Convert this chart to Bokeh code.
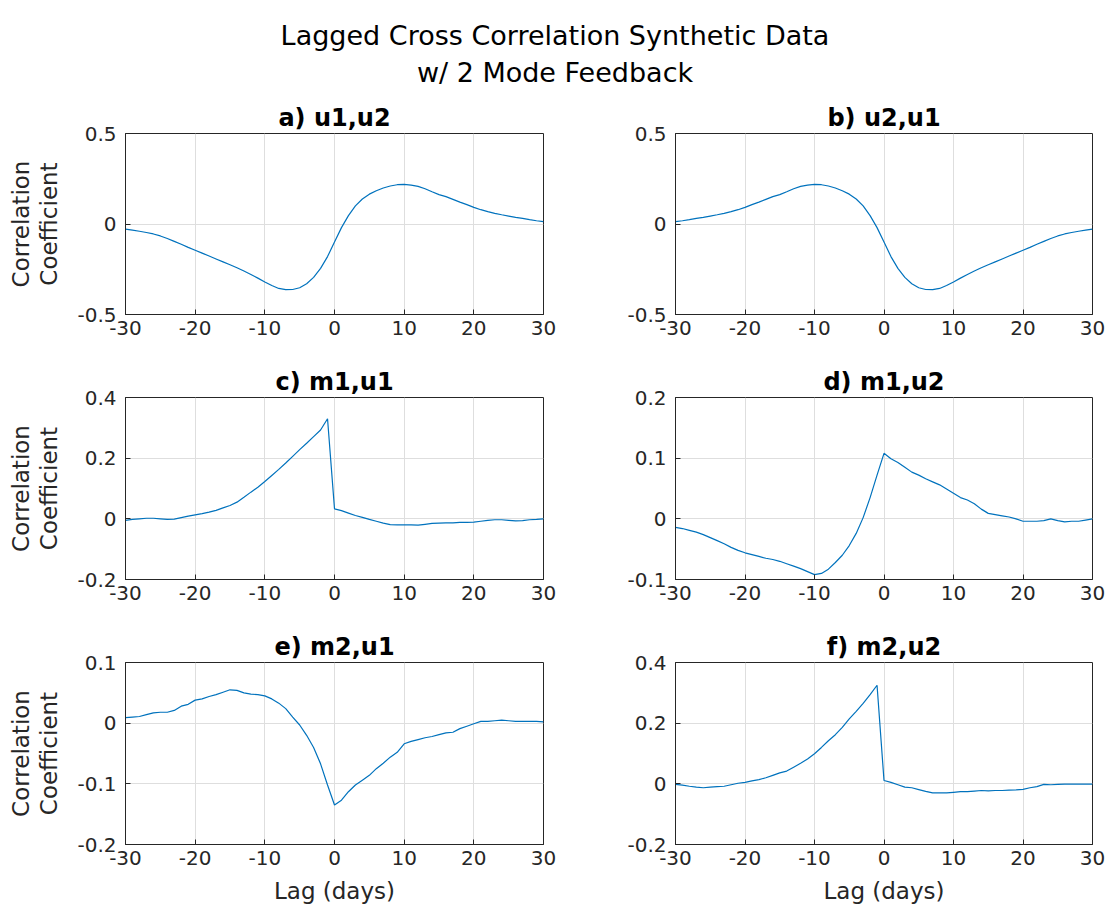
from bokeh.plotting import figure
from bokeh.layouts import column, row
from bokeh.models import FixedTicker, Range1d, CustomJSTickFormatter
from bokeh.core.properties import value
from bokeh.embed import file_html
from bokeh.resources import INLINE

# ---------------- data ----------------
lags = list(range(-30, 31))

a_u1u2 = [-0.028, -0.034, -0.040, -0.047, -0.055, -0.066, -0.080, -0.096, -0.112, -0.129,
          -0.145, -0.161, -0.177, -0.193, -0.209, -0.225, -0.242, -0.260, -0.279, -0.299,
          -0.320, -0.340, -0.356, -0.363, -0.362, -0.352, -0.330, -0.295, -0.245, -0.180,
          -0.100,
          -0.020, 0.046, 0.100, 0.138, 0.165, 0.184, 0.199, 0.210, 0.217, 0.219,
          0.215, 0.208, 0.195, 0.178, 0.162, 0.151, 0.136, 0.121, 0.107, 0.092,
          0.079, 0.068, 0.059, 0.051, 0.044, 0.037, 0.031, 0.024, 0.018, 0.013]

b_u2u1 = [0.013, 0.018, 0.024, 0.031, 0.037, 0.044, 0.051, 0.059, 0.068, 0.079,
          0.092, 0.107, 0.121, 0.136, 0.151, 0.162, 0.178, 0.195, 0.208, 0.215,
          0.219, 0.217, 0.210, 0.199, 0.184, 0.165, 0.138, 0.100, 0.046, -0.020,
          -0.100,
          -0.180, -0.245, -0.295, -0.330, -0.352, -0.362, -0.363, -0.356, -0.340, -0.320,
          -0.299, -0.279, -0.260, -0.242, -0.225, -0.209, -0.193, -0.177, -0.161, -0.145,
          -0.129, -0.112, -0.096, -0.080, -0.066, -0.055, -0.047, -0.040, -0.034, -0.028]

c_m1u1 = [-0.005, -0.002, 0.000, 0.002, 0.002, 0.000, -0.002, -0.001, 0.004, 0.009,
          0.013, 0.017, 0.022, 0.028, 0.036, 0.044, 0.055, 0.071, 0.088, 0.104,
          0.123, 0.143, 0.163, 0.184, 0.206, 0.228, 0.249, 0.271, 0.293, 0.330,
          0.033,
          0.027, 0.019, 0.011, 0.005, -0.002, -0.008, -0.014, -0.019, -0.020, -0.020,
          -0.020, -0.021, -0.018, -0.015, -0.014, -0.013, -0.013, -0.012, -0.012, -0.011,
          -0.008, -0.005, -0.003, -0.003, -0.005, -0.007, -0.006, -0.003, -0.002, 0.000]

d_m1u2 = [-0.014, -0.016, -0.019, -0.022, -0.026, -0.031, -0.036, -0.041, -0.047, -0.052,
          -0.056, -0.059, -0.062, -0.065, -0.067, -0.070, -0.074, -0.078, -0.082, -0.087,
          -0.092, -0.090, -0.083, -0.072, -0.060, -0.044, -0.024, 0.002, 0.035, 0.072,
          0.108,
          0.099, 0.093, 0.085, 0.077, 0.072, 0.066, 0.061, 0.056, 0.049, 0.042,
          0.035, 0.031, 0.025, 0.016, 0.009, 0.007, 0.005, 0.003, 0.000, -0.004,
          -0.004, -0.004, -0.003, 0.000, -0.003, -0.005, -0.004, -0.004, -0.002, 0.000]

e_m2u1 = [0.009, 0.010, 0.011, 0.014, 0.017, 0.018, 0.018, 0.021, 0.028, 0.031,
          0.038, 0.040, 0.044, 0.047, 0.051, 0.055, 0.054, 0.050, 0.048, 0.047,
          0.045, 0.040, 0.033, 0.024, 0.010, -0.003, -0.020, -0.040, -0.067, -0.102,
          -0.135,
          -0.127, -0.113, -0.102, -0.094, -0.086, -0.075, -0.066, -0.056, -0.048, -0.034,
          -0.030, -0.027, -0.024, -0.022, -0.019, -0.016, -0.015, -0.009, -0.005, -0.001,
          0.003, 0.003, 0.004, 0.005, 0.004, 0.003, 0.003, 0.003, 0.003, 0.002]

f_m2u2 = [-0.002, -0.004, -0.008, -0.011, -0.013, -0.011, -0.009, -0.008, -0.003, 0.002,
          0.005, 0.010, 0.014, 0.020, 0.028, 0.036, 0.042, 0.055, 0.068, 0.082,
          0.099, 0.120, 0.142, 0.162, 0.186, 0.214, 0.239, 0.265, 0.294, 0.325,
          0.011,
          0.005, -0.003, -0.011, -0.013, -0.019, -0.025, -0.030, -0.030, -0.030, -0.028,
          -0.026, -0.026, -0.024, -0.022, -0.023, -0.022, -0.022, -0.021, -0.020, -0.018,
          -0.013, -0.009, -0.002, -0.003, -0.002, -0.001, -0.001, -0.001, -0.001, -0.001]

x_ticks = [-30, -20, -10, 0, 10, 20, 30]
x_tick_labels = ["-30", "-20", "-10", "0", "10", "20", "30"]

y_ticks_ab = [-0.5, 0, 0.5]
y_labels_ab = ["-0.5", "0", "0.5"]
y_ticks_cf = [-0.2, 0, 0.2, 0.4]
y_labels_cf = ["-0.2", "0", "0.2", "0.4"]
y_ticks_d = [-0.1, 0, 0.1, 0.2]
y_labels_d = ["-0.1", "0", "0.1", "0.2"]
y_ticks_e = [-0.2, -0.1, 0, 0.1]
y_labels_e = ["-0.2", "-0.1", "0", "0.1"]

main_title = ["Lagged Cross Correlation Synthetic Data", "w/ 2 Mode Feedback"]
panel_titles = ["a) u1,u2", "b) u2,u1", "c) m1,u1", "d) m1,u2", "e) m2,u1", "f) m2,u2"]
y_label = "Correlation\nCoefficient"
x_label = "Lag (days)"

FONT = "DejaVu Sans"
LINE_COLOR = "#0072BD"
AX_COLOR = "#262626"
GRID_COLOR = "#dedede"


def fmt(ticks, labels):
    return CustomJSTickFormatter(
        args=dict(tk=ticks, lb=labels),
        code="""
        for (let k = 0; k < tk.length; k++) {
            if (Math.abs(tk[k] - tick) < 1e-9) return lb[k];
        }
        return '';
        """)


def panel(yvals, title, yticks, ylabels, left_col, top, bottom, fh, show_xlabel):
    if left_col:
        fw, bl, br = 418, 125, 17
    else:
        fw, bl, br = 417, 115, 17
    p = figure(frame_width=fw, frame_height=fh,
               x_range=Range1d(-30, 30), y_range=Range1d(yticks[0], yticks[-1]),
               toolbar_location=None, output_backend="svg",
               min_border_left=bl, min_border_right=br,
               min_border_top=top, min_border_bottom=bottom,
               background_fill_color="white", border_fill_color="white")
    p.line(lags, yvals, line_color=LINE_COLOR, line_width=1.2)

    p.title.text = title
    p.title.align = "center"
    p.title.text_font = FONT
    p.title.text_font_size = "24px"
    p.title.text_font_style = "bold"
    p.title.text_color = "#000000"
    p.title.standoff = 4

    p.xaxis.ticker = FixedTicker(ticks=x_ticks)
    p.xaxis.formatter = fmt(x_ticks, x_tick_labels)
    p.yaxis.ticker = FixedTicker(ticks=yticks)
    p.yaxis.formatter = fmt(yticks, ylabels)

    for ax in (p.xaxis, p.yaxis):
        ax.major_tick_in = 5
        ax.major_tick_out = 0
        ax.minor_tick_line_color = None
        ax.major_tick_line_color = AX_COLOR
        ax.axis_line_color = AX_COLOR
        ax.major_label_text_font = FONT
        ax.major_label_text_font_size = "20px"
        ax.major_label_text_color = AX_COLOR
        ax.axis_label_text_font = FONT
        ax.axis_label_text_font_size = "23px"
        ax.axis_label_text_font_style = "normal"
        ax.axis_label_text_color = AX_COLOR
    p.xaxis.major_label_standoff = 6
    p.yaxis.major_label_standoff = 9

    if left_col:
        p.yaxis.axis_label = y_label
        p.yaxis.axis_label_standoff = 12
        p.yaxis.axis_label_text_line_height = 1.1
    if show_xlabel:
        p.xaxis.axis_label = x_label
        p.xaxis.axis_label_standoff = 10

    p.outline_line_color = AX_COLOR
    p.outline_line_alpha = 1.0
    p.outline_line_width = 1
    p.grid.grid_line_color = GRID_COLOR
    p.grid.grid_line_width = 1
    return p


# title strip
t = figure(width=1109, height=90, x_range=Range1d(0, 1), y_range=Range1d(0, 90),
           toolbar_location=None, output_backend="svg", min_border=0,
           background_fill_color="white", border_fill_color="white")
t.axis.visible = False
t.grid.visible = False
t.outline_line_color = None
t.text(x=[0.5, 0.5], y=[90 - 35, 90 - 72], text=main_title,
       text_align="center", text_baseline="alphabetic",
       text_font=value(FONT), text_font_size="27px", text_color="#000000")

pa = panel(a_u1u2, panel_titles[0], y_ticks_ab, y_labels_ab, True, 43, 36, 181, False)
pb = panel(b_u2u1, panel_titles[1], y_ticks_ab, y_labels_ab, False, 43, 36, 181, False)
pc = panel(c_m1u1, panel_titles[2], y_ticks_cf, y_labels_cf, True, 47, 31, 182, False)
pd = panel(d_m1u2, panel_titles[3], y_ticks_d, y_labels_d, False, 47, 31, 182, False)
pe = panel(e_m2u1, panel_titles[4], y_ticks_e, y_labels_e, True, 52, 69, 182, True)
pf = panel(f_m2u2, panel_titles[5], y_ticks_cf, y_labels_cf, False, 52, 69, 182, True)

layout = column(t, row(pa, pb, spacing=0), row(pc, pd, spacing=0), row(pe, pf, spacing=0), spacing=0)

open("out.html", "w").write(file_html(layout, INLINE))
